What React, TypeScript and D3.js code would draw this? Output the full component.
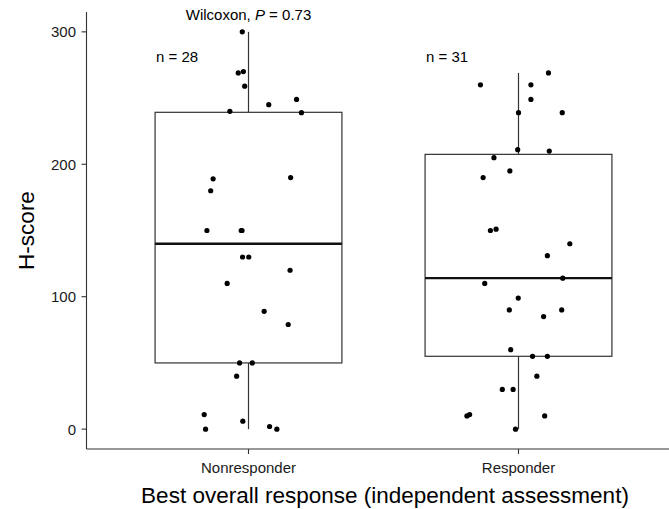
import React from "react";
import * as d3 from "d3";

const categories = ["Nonresponder", "Responder"];
const nLabels = ["n = 28", "n = 31"];
const yTicks = [0, 100, 200, 300];

// H-score values
const nonresponderValues = [300, 269, 270, 259, 240, 245, 249, 239, 189, 180, 190, 150, 150, 150, 130, 130, 120, 110, 89, 79, 50, 50, 40, 11, 6, 0, 2, 0];
// horizontal jitter in category units
const nonresponderJitter = [-0.023, -0.038, -0.019, -0.014, -0.069, 0.075, 0.178, 0.196, -0.131, -0.14, 0.156, -0.154, -0.027, -0.024, -0.022, 0.001, 0.154, -0.079, 0.058, 0.147, -0.033, 0.014, -0.044, -0.164, -0.021, -0.159, 0.078, 0.105];

const responderValues = [260, 260, 269, 249, 239, 239, 211, 210, 205, 195, 190, 150, 151, 140, 131, 114, 110, 99, 90, 90, 85, 60, 55, 55, 40, 30, 30, 10, 11, 10, 0];
const responderJitter = [-0.141, 0.046, 0.111, 0.046, 0.0, 0.162, -0.003, 0.114, -0.091, -0.032, -0.131, -0.104, -0.083, 0.19, 0.107, 0.164, -0.125, -0.001, -0.034, 0.16, 0.093, -0.029, 0.052, 0.107, 0.068, -0.06, -0.02, -0.191, -0.181, 0.097, -0.011];

const groups = [
  { values: nonresponderValues, jitter: nonresponderJitter },
  { values: responderValues, jitter: responderJitter },
];

const W = 669;
const H = 509;
const FONT = "'Liberation Sans', Arial, Helvetica, sans-serif";

export default function App() {
  const x = d3.scaleLinear().domain([0.4, 2.6]).range([86.5, 680.5]);
  const y = d3.scaleLinear().domain([-15, 315]).range([449, 12]);
  const axisX = 86.5;
  const axisY = 449;
  const halfBox = 0.346;
  const lineColor = "#333333";
  const small = 15;
  const big = 22.5;

  const stats = groups.map((g) => {
    const s = [...g.values].sort(d3.ascending);
    const q1 = d3.quantile(s, 0.25)!;
    const med = d3.quantile(s, 0.5)!;
    const q3 = d3.quantile(s, 0.75)!;
    const iqr = q3 - q1;
    const lo = d3.min(s.filter((v) => v >= q1 - 1.5 * iqr))!;
    const hi = d3.max(s.filter((v) => v <= q3 + 1.5 * iqr))!;
    return { q1, med, q3, lo, hi };
  });

  return (
    <svg
      width={W}
      height={H}
      style={{ position: "absolute", left: 0, top: 0, background: "#fff" }}
      fontFamily={FONT}
    >
      {/* boxes */}
      {stats.map((s, i) => {
        const c = x(i + 1);
        const l = x(i + 1 - halfBox);
        const r = x(i + 1 + halfBox);
        return (
          <g key={"box" + i}>
            <line x1={c} x2={c} y1={y(s.hi)} y2={y(s.q3)} stroke={lineColor} strokeWidth={1.2} />
            <line x1={c} x2={c} y1={y(s.q1)} y2={y(s.lo)} stroke={lineColor} strokeWidth={1.2} />
            <rect x={l} y={y(s.q3)} width={r - l} height={y(s.q1) - y(s.q3)} fill="#fff" stroke={lineColor} strokeWidth={1.2} />
            <line x1={l} x2={r} y1={y(s.med)} y2={y(s.med)} stroke="#111" strokeWidth={2.3} />
          </g>
        );
      })}

      {/* points */}
      {groups.map((g, i) =>
        g.values.map((v, j) => (
          <circle key={`p${i}-${j}`} cx={x(i + 1 + g.jitter[j])} cy={y(v)} r={2.6} fill="#000" />
        ))
      )}

      {/* axes */}
      <line x1={axisX} x2={axisX} y1={12} y2={axisY} stroke={lineColor} strokeWidth={1.1} />
      <line x1={axisX} x2={W} y1={axisY} y2={axisY} stroke={lineColor} strokeWidth={1.1} />
      {yTicks.map((t) => (
        <g key={"yt" + t}>
          <line x1={axisX - 5} x2={axisX} y1={y(t)} y2={y(t)} stroke={lineColor} strokeWidth={1.1} />
          <text x={76} y={y(t)} dy="0.36em" textAnchor="end" fontSize={small} fill="#1a1a1a">
            {t}
          </text>
        </g>
      ))}
      {categories.map((c, i) => (
        <g key={"xt" + c}>
          <line x1={x(i + 1)} x2={x(i + 1)} y1={axisY} y2={axisY + 5} stroke={lineColor} strokeWidth={1.1} />
          <text x={x(i + 1)} y={473} textAnchor="middle" fontSize={small} fill="#1a1a1a">
            {c}
          </text>
        </g>
      ))}

      {/* n labels */}
      {nLabels.map((n, i) => (
        <text key={n} x={x(i + 1 - halfBox) + 1} y={62} fontSize={small} fill="#000">
          {n}
        </text>
      ))}

      {/* test annotation */}
      <text x={x(1)} y={20} textAnchor="middle" fontSize={small} fill="#000">
        Wilcoxon, <tspan fontStyle="italic">P</tspan> = 0.73
      </text>

      {/* axis titles */}
      <text x={385} y={503} textAnchor="middle" fontSize={big} fill="#000">
        Best overall response (independent assessment)
      </text>
      <text transform={`translate(34, ${(12 + axisY) / 2}) rotate(-90)`} textAnchor="middle" fontSize={big} fill="#000">
        H-score
      </text>
    </svg>
  );
}
